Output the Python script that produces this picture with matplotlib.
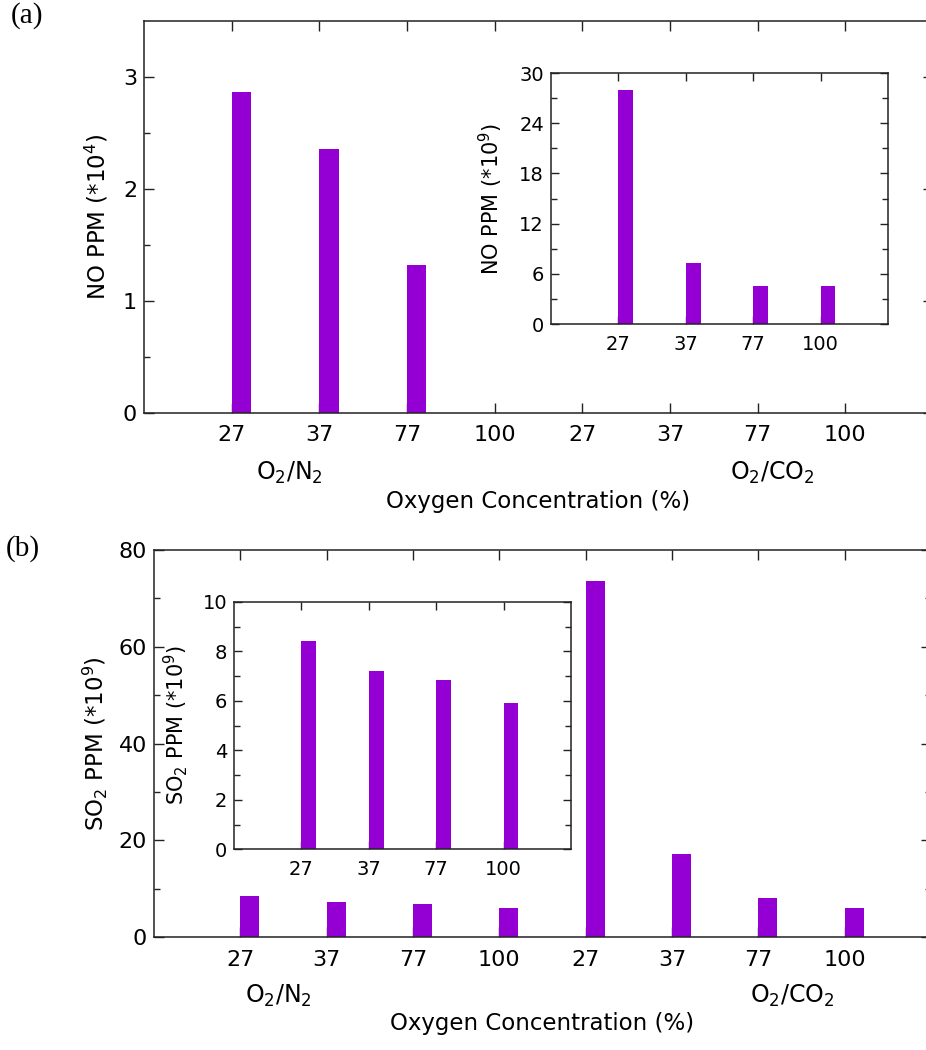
import matplotlib
matplotlib.use("Agg")
import matplotlib.pyplot as plt
import numpy as np

# oxygen concentrations (%) shown for each atmosphere
o2_levels = ["27", "37", "77", "100"]
main_ticks = o2_levels + o2_levels

# (a) NO, O2/N2 atmosphere (*10^4 ppm); no bar at 100 % O2
no_n2 = [2.87, 2.36, 1.32]
# (a) inset: NO, O2/CO2 atmosphere (*10^9 ppm)
no_co2 = [28.0, 7.25, 4.6, 4.6]

# (b) SO2 (*10^9 ppm)
so2_n2 = [8.4, 7.2, 6.85, 5.9]
so2_co2 = [73.5, 17.1, 8.1, 6.0]

purple = "#9400D3"
bar_w = 0.22
spine_c = "#222222"


def style_axes(ax, tick_size, major_len=7, minor_len=4.5, xpad=9):
    ax.set_axisbelow(True)  # bars cover the tick marks
    for s in ax.spines.values():
        s.set_linewidth(1.1)
        s.set_color(spine_c)
    ax.tick_params(which="both", direction="in", top=True, right=True,
                   color=spine_c, width=1.0, labelsize=tick_size)
    ax.tick_params(which="major", length=major_len)
    ax.tick_params(which="minor", length=minor_len)
    ax.tick_params(axis="x", which="minor", top=False, bottom=False)
    ax.tick_params(axis="x", pad=xpad)
    ax.tick_params(axis="y", pad=5)


fig = plt.figure(figsize=(9.26, 10.5), dpi=100)

# ---- panel (a) ----
ax_a = fig.add_axes([0.1555, 0.6067, 0.852, 0.3733])
x_main = np.arange(1, 9)
ax_a.bar(x_main[:len(no_n2)], no_n2, width=bar_w, align="edge", color=purple)
ax_a.set_xlim(0, 9)
ax_a.set_ylim(0, 3.5)
ax_a.set_xticks(x_main)
ax_a.set_xticklabels(main_ticks)
ax_a.set_yticks([0, 1, 2, 3])
ax_a.set_yticks(np.arange(0.5, 3.5, 1.0), minor=True)
style_axes(ax_a, 16)
ax_a.set_ylabel(r"NO PPM (*10$^4$)", fontsize=16.5)
ax_a.yaxis.set_label_coords(-0.043, 0.5)
ax_a.set_xlabel("Oxygen Concentration (%)", fontsize=16.5)
ax_a.xaxis.set_label_coords(0.5, -0.196)
xt = ax_a.get_xaxis_transform()
ax_a.text(1.66, -0.152, r"O$_2$/N$_2$", transform=xt, ha="center", va="center", fontsize=17)
ax_a.text(7.16, -0.152, r"O$_2$/CO$_2$", transform=xt, ha="center", va="center", fontsize=17)

ins_a = fig.add_axes([0.595, 0.6914, 0.364, 0.239])
x_ins = np.arange(1, 5)
ins_a.bar(x_ins, no_co2, width=bar_w, align="edge", color=purple)
ins_a.set_xlim(0, 5)
ins_a.set_ylim(0, 30)
ins_a.set_xticks(x_ins)
ins_a.set_xticklabels(o2_levels)
ins_a.set_yticks(np.arange(0, 31, 6))
ins_a.set_yticks(np.arange(3, 30, 6), minor=True)
style_axes(ins_a, 14, major_len=6, minor_len=4, xpad=8)
ins_a.set_ylabel(r"NO PPM (*10$^9$)", fontsize=15)
ins_a.yaxis.set_label_coords(-0.136, 0.5)

fig.text(0.029, 0.985, "(a)", family="Liberation Serif", fontsize=21,
         ha="center", va="center")

# ---- panel (b) ----
ax_b = fig.add_axes([0.1663, 0.1076, 0.839, 0.3686])
ax_b.bar(x_main[:4], so2_n2, width=bar_w, align="edge", color=purple)
ax_b.bar(x_main[4:], so2_co2, width=bar_w, align="edge", color=purple)
ax_b.set_xlim(0, 9)
ax_b.set_ylim(0, 80)
ax_b.set_xticks(x_main)
ax_b.set_xticklabels(main_ticks)
ax_b.set_yticks(np.arange(0, 81, 20))
ax_b.set_yticks(np.arange(10, 80, 20), minor=True)
style_axes(ax_b, 16)
ax_b.set_ylabel(r"SO$_2$ PPM (*10$^9$)", fontsize=16.5)
ax_b.yaxis.set_label_coords(-0.057, 0.5)
ax_b.set_xlabel("Oxygen Concentration (%)", fontsize=16.5)
ax_b.xaxis.set_label_coords(0.5, -0.194)
xt = ax_b.get_xaxis_transform()
ax_b.text(1.44, -0.152, r"O$_2$/N$_2$", transform=xt, ha="center", va="center", fontsize=17)
ax_b.text(7.39, -0.152, r"O$_2$/CO$_2$", transform=xt, ha="center", va="center", fontsize=17)

ins_b = fig.add_axes([0.2527, 0.1911, 0.364, 0.2358])
ins_b.bar(x_ins, so2_n2, width=bar_w, align="edge", color=purple)
ins_b.set_xlim(0, 5)
ins_b.set_ylim(0, 10)
ins_b.set_xticks(x_ins)
ins_b.set_xticklabels(o2_levels)
ins_b.set_yticks(np.arange(0, 11, 2))
ins_b.set_yticks(np.arange(1, 10, 2), minor=True)
style_axes(ins_b, 14, major_len=6, minor_len=4, xpad=8)
ins_b.set_ylabel(r"SO$_2$ PPM (*10$^9$)", fontsize=15)
ins_b.yaxis.set_label_coords(-0.13, 0.5)

fig.text(0.025, 0.478, "(b)", family="Liberation Serif", fontsize=21,
         ha="center", va="center")

fig.savefig("out.png", dpi=100)
